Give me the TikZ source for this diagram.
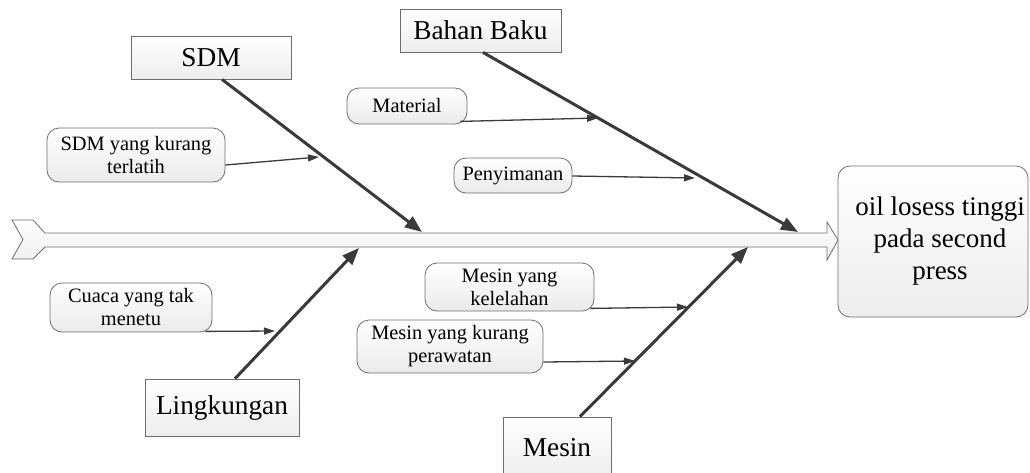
\documentclass[tikz,border=0pt]{standalone}
\usepackage{fontspec}
\setmainfont{Liberation Serif}
\usetikzlibrary{arrows.meta,calc,shadows}
\definecolor{bonecol}{HTML}{3A3A3A}
\definecolor{edgecol}{HTML}{6E6E6E}
\begin{document}
\begin{tikzpicture}[x=1pt,y=-1pt,
  catbox/.style={draw=edgecol,line width=0.8pt,top color=white,bottom color=gray!14,
    inner sep=0pt,font=\fontsize{27.3}{31}\selectfont,align=center},
  subbox/.style={draw=edgecol,line width=0.8pt,rounded corners=12pt,top color=white,bottom color=gray!16,
    inner sep=0pt,font=\fontsize{20.4}{23}\selectfont,align=center},
  bone/.style={draw=bonecol,line width=3pt,-{Triangle[length=17pt,width=13pt]}},
  subarrow/.style={draw=bonecol,line width=1.3pt,-{Triangle[length=11pt,width=7pt]}}]
\useasboundingbox (0,0) rectangle (1030,472);
% spine
\draw[draw=edgecol,line width=0.8pt,top color=white,bottom color=gray!12]
  (12,220) -- (33,220) -- (45,233) -- (827,233) -- (827,222) -- (838,240)
  -- (827,260) -- (827,247) -- (45,247) -- (33,259) -- (12,259) -- (23,239.5) -- cycle;
% effect
\node[draw=edgecol,line width=0.8pt,rounded corners=12pt,top color=white,bottom color=gray!14,
  minimum width=190pt,minimum height=151pt,inner sep=0pt,
  label={[font=\fontsize{27}{32}\selectfont,align=center,xshift=7pt]center:oil losess tinggi\\pada second\\press}]
  (effect) at (933,241.5) {};
% categories
\node[catbox,minimum width=160pt,minimum height=43pt] (sdm) at (211,57.5) {SDM};
\node[catbox,minimum width=161pt,minimum height=43pt] (bahan) at (480.5,30.5) {Bahan Baku};
\node[catbox,minimum width=154pt,minimum height=57pt] (ling) at (222,407.5) {Lingkungan};
\node[catbox,minimum width=108pt,minimum height=61pt,text depth=0pt] (mesin) at (557,447.5) {Mesin};
% bone tips
\coordinate (sdmtip) at (422,232);
\coordinate (bahantip) at (798,232);
\coordinate (lingtip) at (359,248);
\coordinate (mesintip) at (748,247);
\draw[bone] ($(sdm.south)+(11,0)$) -- (sdmtip);
\draw[bone] ($(bahan.south)+(2.5,0)$) -- (bahantip);
\draw[bone] ($(ling.north)+(13,0)$) -- (lingtip);
\draw[bone] ($(mesin.north)+(23,0)$) -- (mesintip);
% sub causes
\node[subbox,minimum width=178pt,minimum height=54pt] (s1) at (136,155) {SDM yang kurang\\terlatih};
\node[subbox,minimum width=120pt,minimum height=36pt] (b1) at (407,106) {Material};
\node[subbox,minimum width=118pt,minimum height=35pt] (b2) at (513,175.5) {Penyimanan};
\node[subbox,minimum width=162pt,minimum height=49pt] (l1) at (131,307.5) {Cuaca yang tak\\menetu};
\node[subbox,minimum width=169pt,minimum height=48pt] (m1) at (509.5,287) {Mesin yang\\kelelahan};
\node[subbox,minimum width=186pt,minimum height=53pt] (m2) at (450,346.5) {Mesin yang kurang\\perawatan};
\coordinate (s1e) at (319,157);
\coordinate (b1e) at (598,118);
\coordinate (b2e) at (695,178);
\coordinate (l1e) at (275,331);
\coordinate (m1e) at (688,307);
\coordinate (m2e) at (635,361);
\draw[subarrow] ($(s1.east)+(0,10)$) -- (s1e);
\draw[subarrow] ($(b1.south east)+(-7,-3)$) -- (b1e);
\draw[subarrow] ($(b2.east)+(0,0.5)$) -- (b2e);
\draw[subarrow] ($(l1.south east)+(-7,-1)$) -- (l1e);
\draw[subarrow] ($(m1.south east)+(-4,-3)$) -- (m1e);
\draw[subarrow] ($(m2.east)+(0,15.5)$) -- (m2e);
\end{tikzpicture}
\end{document}
